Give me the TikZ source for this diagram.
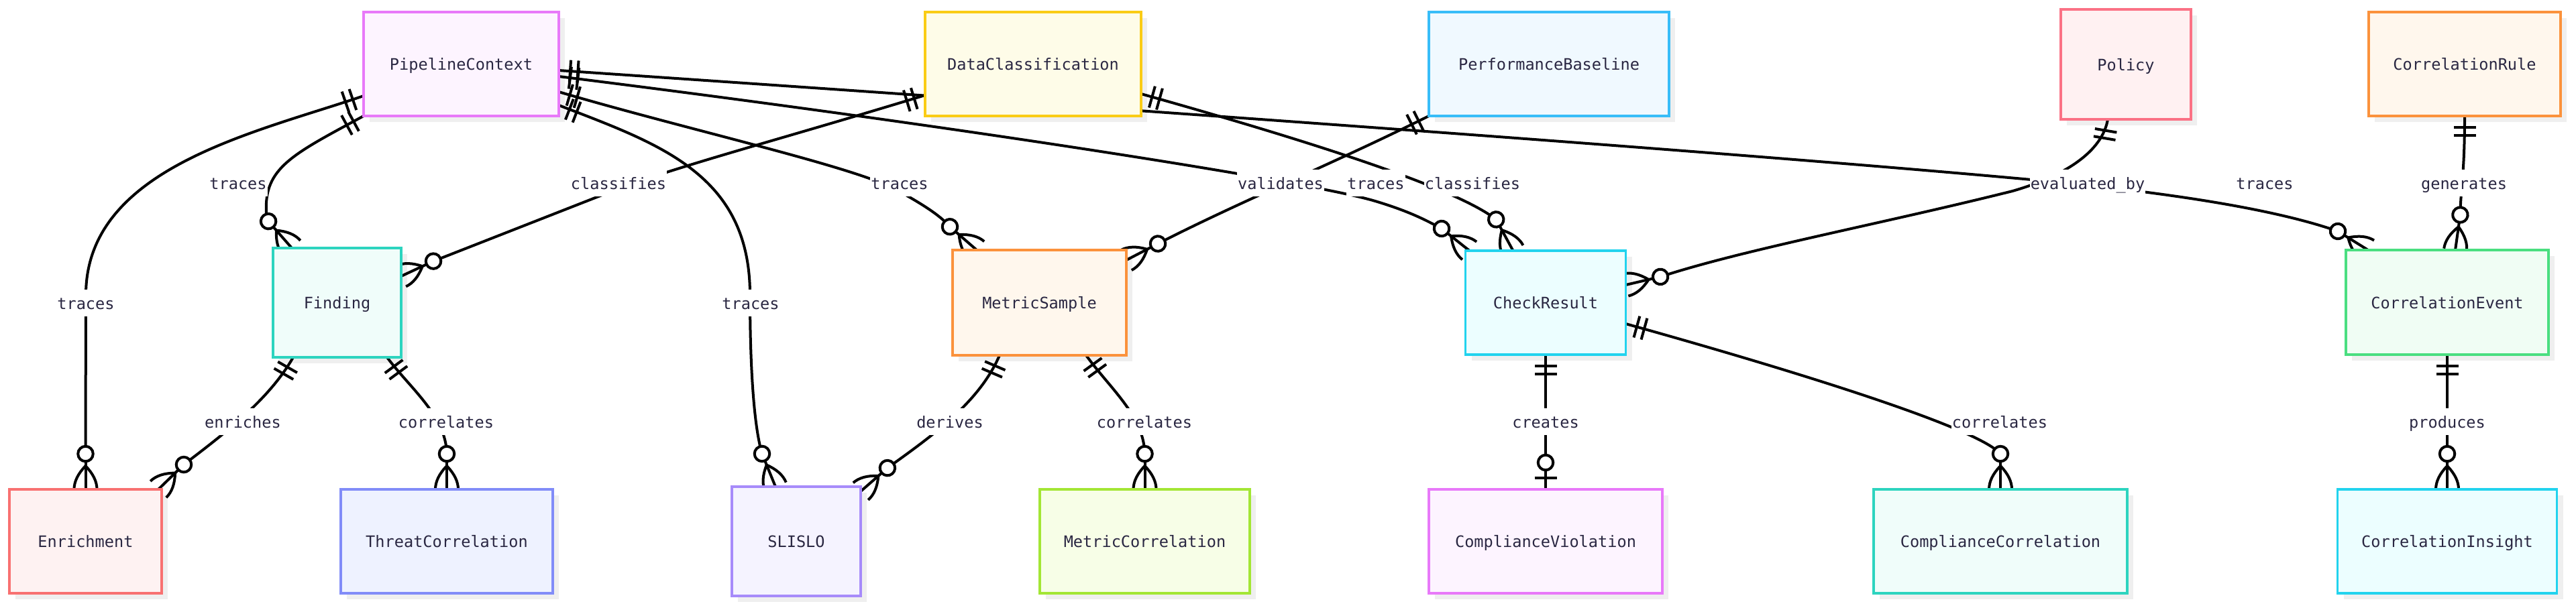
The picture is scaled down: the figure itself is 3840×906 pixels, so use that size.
\documentclass[tikz,border=0pt]{standalone}
\usepackage{fontspec}
\setmonofont{DejaVu Sans Mono}
\usetikzlibrary{calc}
\definecolor{txt}{HTML}{2A2742}
\definecolor{shd}{HTML}{EFEFEF}
\definecolor{bFuchsia}{HTML}{E879F9}\definecolor{fFuchsia}{HTML}{FDF4FF}
\definecolor{bYellow}{HTML}{FACC15}\definecolor{fYellow}{HTML}{FEFCE8}
\definecolor{bSky}{HTML}{38BDF8}\definecolor{fSky}{HTML}{F0F9FF}
\definecolor{bRose}{HTML}{FB7185}\definecolor{fRose}{HTML}{FFF1F2}
\definecolor{bOrange}{HTML}{FB923C}\definecolor{fOrange}{HTML}{FFF7ED}
\definecolor{bTeal}{HTML}{2DD4BF}\definecolor{fTeal}{HTML}{F0FDFA}
\definecolor{bCyan}{HTML}{22D3EE}\definecolor{fCyan}{HTML}{ECFEFF}
\definecolor{bGreen}{HTML}{4ADE80}\definecolor{fGreen}{HTML}{F0FDF4}
\definecolor{bRed}{HTML}{F87171}\definecolor{fRed}{HTML}{FEF2F2}
\definecolor{bIndigo}{HTML}{818CF8}\definecolor{fIndigo}{HTML}{EEF2FF}
\definecolor{bViolet}{HTML}{A78BFA}\definecolor{fViolet}{HTML}{F5F3FF}
\definecolor{bLime}{HTML}{A3E635}\definecolor{fLime}{HTML}{F7FEE7}
\pgfdeclarelayer{bglayer}
\pgfdeclarelayer{shadowlayer}
\pgfdeclarelayer{edgelayer}
\pgfsetlayers{bglayer,shadowlayer,edgelayer,main}
\tikzset{
  ent/.style={rectangle, line width=3.8pt, inner sep=0pt, outer sep=0pt, text=txt,
    font=\ttfamily\fontsize{23.6}{28}\selectfont, text height=18pt, text depth=0pt},
  rel/.style={fill=white, inner xsep=1pt, inner ysep=0pt, minimum height=40pt, text=txt,
    font=\ttfamily\fontsize{23.6}{28}\selectfont, text height=19pt, text depth=0pt},
  erl/.style={line width=4pt, black},
}
\newcommand\erOne[2]{\begin{scope}[shift={(#1)},rotate=#2]
  \draw[erl] (17,-16.5)--(17,16.5) (28.5,-16.5)--(28.5,16.5);\end{scope}}
\newcommand\erMany[2]{\begin{scope}[shift={(#1)},rotate=#2]
  \draw[erl] (53,0)--(0,0);
  \draw[erl] (35,0) .. controls (23.3,11.3) and (11.7,17) .. (0,17);
  \draw[erl] (35,0) .. controls (23.3,-11.3) and (11.7,-17) .. (0,-17);
  \draw[erl,fill=white] (53,0) circle (11.25);\end{scope}}
\newcommand\erZeroOne[2]{\begin{scope}[shift={(#1)},rotate=#2]
  \draw[erl] (40,0)--(0,0) (17,-16.5)--(17,16.5);
  \draw[erl,fill=white] (40,0) circle (11.25);\end{scope}}
\begin{document}
\begin{tikzpicture}[x=1pt,y=-1pt]
\useasboundingbox (0,0) rectangle (3840,906);
\begin{pgfonlayer}{bglayer}
\fill[white] (0,0) rectangle (3840,906);
\end{pgfonlayer}
% entities
\node[ent,draw=bFuchsia,fill=fFuchsia,minimum width=291pt,minimum height=155pt] (PC) at (687.5,95.5) {PipelineContext};
\node[ent,draw=bYellow,fill=fYellow,minimum width=322pt,minimum height=155pt] (DC) at (1540,95.5) {DataClassification};
\node[ent,draw=bSky,fill=fSky,minimum width=358pt,minimum height=155pt] (PB) at (2309,95.5) {PerformanceBaseline};
\node[ent,draw=bRose,fill=fRose,minimum width=194pt,minimum height=164pt] (Pol) at (3169,96) {Policy};
\node[ent,draw=bOrange,fill=fOrange,minimum width=286pt,minimum height=155pt] (CRu) at (3674,95.5) {CorrelationRule};
\node[ent,draw=bTeal,fill=fTeal,minimum width=191pt,minimum height=163pt] (Fin) at (502.5,451.5) {Finding};
\node[ent,draw=bOrange,fill=fOrange,minimum width=259pt,minimum height=157pt] (MS) at (1549.5,451.5) {MetricSample};
\node[ent,draw=bCyan,fill=fCyan,minimum width=239pt,minimum height=155pt] (CR) at (2304,451.5) {CheckResult};
\node[ent,draw=bGreen,fill=fGreen,minimum width=302pt,minimum height=156pt] (CE) at (3648,451) {CorrelationEvent};
\node[ent,draw=bRed,fill=fRed,minimum width=227pt,minimum height=155pt] (Enr) at (127.5,807.5) {Enrichment};
\node[ent,draw=bIndigo,fill=fIndigo,minimum width=316pt,minimum height=155pt] (TC) at (666,807.5) {ThreatCorrelation};
\node[ent,draw=bViolet,fill=fViolet,minimum width=192pt,minimum height=163pt] (SLO) at (1187,807.5) {SLISLO};
\node[ent,draw=bLime,fill=fLime,minimum width=313pt,minimum height=155pt] (MC) at (1706.5,807.5) {MetricCorrelation};
\node[ent,draw=bFuchsia,fill=fFuchsia,minimum width=348pt,minimum height=155pt] (CV) at (2304,807.5) {ComplianceViolation};
\node[ent,draw=bTeal,fill=fTeal,minimum width=378pt,minimum height=155pt] (CC) at (2982,807.5) {ComplianceCorrelation};
\node[ent,draw=bCyan,fill=fCyan,minimum width=327pt,minimum height=155pt] (CI) at (3648,807.5) {CorrelationInsight};
% shadows
\begin{pgfonlayer}{shadowlayer}
\foreach \n in {PC,DC,PB,Pol,CRu,Fin,MS,CR,CE,Enr,TC,SLO,MC,CV,CC,CI}
  \fill[shd] ($(\n.north west)+(9,9)$) rectangle ($(\n.south east)+(9,9)$);
\end{pgfonlayer}
% end points
\coordinate (s1) at ($(PC.west)+(0,47.5)$);        \coordinate (e1) at (Enr.north);
\coordinate (s2) at (PC.south west);                \coordinate (e2) at ($(Fin.north west)+(28,0)$);
\coordinate (s3) at ($(PC.east)+(0,61.5)$);         \coordinate (e3) at ($(SLO.north west)+(65,0)$);
\coordinate (s4) at ($(PC.east)+(0,41.5)$);         \coordinate (e4) at ($(MS.north west)+(36,0)$);
\coordinate (s5) at ($(PC.east)+(0,18.5)$);         \coordinate (e5) at ($(CR.north west)+(6,0)$);
\coordinate (s6) at ($(PC.east)+(0,9.5)$);          \coordinate (e6) at ($(CE.north west)+(33,0)$);
\coordinate (s7) at ($(DC.west)+(0,46.5)$);         \coordinate (e7) at ($(Fin.east)+(0,-39.5)$);
\coordinate (s8) at ($(DC.east)+(0,44.5)$);         \coordinate (e8) at ($(CR.north west)+(71,0)$);
\coordinate (s9) at (PB.south west);                \coordinate (e9) at ($(MS.east)+(0,-63.5)$);
\coordinate (s10) at ($(Pol.south)+(-27,0)$);       \coordinate (e10) at ($(CR.east)+(0,-26.5)$);
\coordinate (s11) at (CRu.south);                   \coordinate (e11) at ($(CE.north)+(12,0)$);
\coordinate (s12) at ($(Fin.south west)+(30,0)$);   \coordinate (e12) at ($(Enr.north east)+(-5,0)$);
\coordinate (s13) at ($(Fin.south east)+(-21,0)$);  \coordinate (e13) at (TC.north);
\coordinate (s14) at ($(MS.south west)+(70,0)$);    \coordinate (e14) at ($(SLO.north east)+(0,7)$);
\coordinate (s15) at ($(MS.south east)+(-60,0)$);   \coordinate (e15) at (MC.north);
\coordinate (s16) at (CR.south);                    \coordinate (e16) at (CV.north);
\coordinate (s17) at ($(CR.east)+(0,31.5)$);        \coordinate (e17) at (CC.north);
\coordinate (s18) at (CE.south);                    \coordinate (e18) at (CI.north);
% relationships
\begin{pgfonlayer}{edgelayer}
\draw[erl] (s1) .. controls ($(s1)+(198.9:170pt)$) and (128,250) .. (128,440) -- ($(e1)+(90:53pt)$);
\draw[erl] (s2) .. controls ($(s2)+(208.5:120pt)$) and (393,250) .. (397,318) -- ($(e2)+(131.2:53pt)$);
\draw[erl] (s3) .. controls ($(s3)+(-21.1:161pt)$) and (1118,260) .. (1118,440) .. controls (1118,560) and (1125,640) .. ($(e3)+(112.2:53pt)$);
\draw[erl] (s4) .. controls ($(s4)+(-16.4:205pt)$) and (1280,250) .. (1340,285) .. controls (1375,305) and (1400,320) .. ($(e4)+(139:53pt)$);
\draw[erl] (s5) .. controls ($(s5)+(-7.1:570pt)$) and (1950,270) .. (2050,300) .. controls (2100,315) and (2125,328) .. ($(e5)+(141.5:53pt)$);
\draw[erl] (s6) .. controls ($(s6)+(-3.9:670pt)$) and (2500,220) .. (3017,267) .. controls (3250,288) and (3400,315) .. ($(e6)+(148.1:53pt)$);
\draw[erl] (s7) .. controls ($(s7)+(197:240pt)$) and (1000,250) .. (900,290) -- ($(e7)+(25:53pt)$);
\draw[erl] (s8) .. controls ($(s8)+(-15.7:259pt)$) and (2170,280) .. ($(e8)+(118.5:53pt)$);
\draw[erl] (s9) .. controls ($(s9)+(206.4:169pt)$) and (1850,300) .. ($(e9)+(27.5:53pt)$);
\draw[erl] (s10) .. controls ($(s10)+(260.3:48pt)$) and (3080,262) .. (3000,285) .. controls (2800,335) and (2600,372) .. ($(e10)+(13.2:53pt)$);
\draw[erl] (s11) .. controls (3674,260) and (3668,280) .. ($(e11)+(82:53pt)$);
\draw[erl] (s12) .. controls ($(s12)+(240.4:75pt)$) and (330,650) .. ($(e12)+(44.2:53pt)$);
\draw[erl] (s13) .. controls ($(s13)+(-53.7:56pt)$) and (665,620) .. ($(e13)+(90:53pt)$);
\draw[erl] (s14) .. controls ($(s14)+(246.8:76pt)$) and (1390,650) .. ($(e14)+(41.2:53pt)$);
\draw[erl] (s15) .. controls ($(s15)+(-54.2:62pt)$) and (1705,620) .. ($(e15)+(90:53pt)$);
\draw[erl] (s16) -- (e16);
\draw[erl] (s17) .. controls ($(s17)+(-15.6:287pt)$) and (2950,640) .. ($(e17)+(90:53pt)$);
\draw[erl] (s18) -- (e18);
% cardinality markers
\erOne{s1}{198.9}  \erMany{e1}{90}
\erOne{s2}{208.5}  \erMany{e2}{131.2}
\erOne{s3}{-21.1}  \erMany{e3}{112.2}
\erOne{s4}{-16.4}  \erMany{e4}{139}
\erOne{s5}{-7.1}   \erMany{e5}{141.5}
\erOne{s6}{-3.9}   \erMany{e6}{148.1}
\erOne{s7}{197}    \erMany{e7}{25}
\erOne{s8}{-15.7}  \erMany{e8}{118.5}
\erOne{s9}{206.4}  \erMany{e9}{27.5}
\erOne{s10}{260.3} \erMany{e10}{13.2}
\erOne{s11}{-90}   \erMany{e11}{82}
\erOne{s12}{240.4} \erMany{e12}{44.2}
\erOne{s13}{-53.7} \erMany{e13}{90}
\erOne{s14}{246.8} \erMany{e14}{41.2}
\erOne{s15}{-54.2} \erMany{e15}{90}
\erOne{s16}{-90}   \erZeroOne{e16}{90}
\erOne{s17}{-15.6} \erMany{e17}{90}
\erOne{s18}{-90}   \erMany{e18}{90}
\end{pgfonlayer}
% relationship labels
\node[rel] (l1) at (128,452) {traces};
\node[rel] (l2) at (355,273) {traces};
\node[rel] (l3) at (1119,452) {traces};
\node[rel] (l4) at (1341,273) {traces};
\node[rel] (l5) at (2051,273) {traces};
\node[rel] (l6) at (3376,273) {traces};
\node[rel] (l7) at (922,273) {classifies};
\node[rel] (l8) at (2195,273) {classifies};
\node[rel] (l9) at (1909,273) {validates};
\node[rel] (l10) at (3112,273) {evaluated\_by};
\node[rel] (l11) at (3673,273) {generates};
\node[rel] (l12) at (362,629) {enriches};
\node[rel] (l13) at (665,629) {correlates};
\node[rel] (l14) at (1416,629) {derives};
\node[rel] (l15) at (1706,629) {correlates};
\node[rel] (l16) at (2304,629) {creates};
\node[rel] (l17) at (2981,629) {correlates};
\node[rel] (l18) at (3648,629) {produces};
\end{tikzpicture}
\end{document}
